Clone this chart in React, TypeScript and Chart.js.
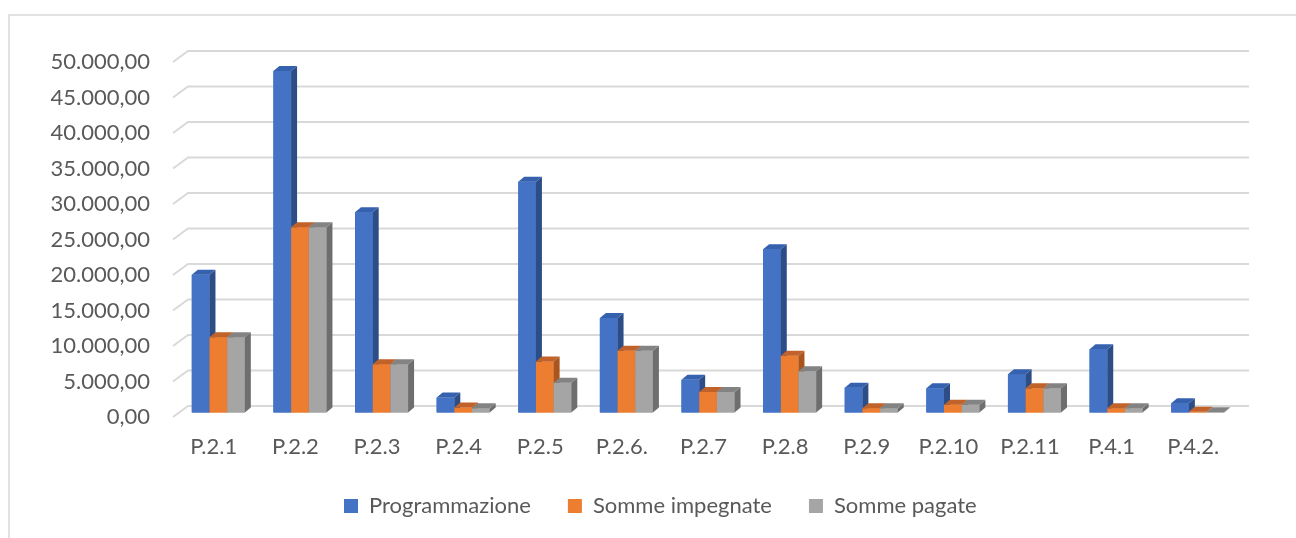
import React, { useEffect, useRef } from 'react';
import { Chart, registerables } from 'chart.js';

Chart.register(...registerables);

const categories = ['P.2.1', 'P.2.2', 'P.2.3', 'P.2.4', 'P.2.5', 'P.2.6.', 'P.2.7', 'P.2.8', 'P.2.9', 'P.2.10', 'P.2.11', 'P.4.1', 'P.4.2.'];
const programmazione = [19400, 48100, 28200, 2100, 32500, 13300, 4600, 23000, 3500, 3400, 5400, 8900, 1300];
const sommeImpegnate = [10600, 26100, 6800, 700, 7200, 8700, 2900, 8000, 600, 1100, 3400, 600, 100];
const sommePagate = [10600, 26100, 6800, 600, 4200, 8700, 2900, 5800, 600, 1100, 3400, 600, 50];
const seriesNames = ['Programmazione', 'Somme impegnate', 'Somme pagate'];
const yMin = 0;
const yMax = 50000;
const yStep = 5000;

const frontColors = ['#4472C4', '#ED7D31', '#A5A5A5'];
const sideColors = ['#2C4D86', '#A8561E', '#6E6E6E'];
const topColors = ['#3561AE', '#C0622A', '#838383'];

const FONT = 'Lato, "Open Sans", sans-serif';
const TEXT = '#595959';
const GRID = '#d9d9d9';

function fmt(v: number): string {
  const [i, d] = v.toFixed(2).split('.');
  return i.replace(/\B(?=(\d{3})+(?!\d))/g, '.') + ',' + d;
}

const WALL_DX = 15;
const WALL_DY = 11;
const BAR_DX = 4.5;
const BAR_DY = -4.5;
const FACE_DX = 6;
const FACE_DY = 5;

const excel3d = {
  id: 'excel3d',
  afterLayout(chart: any) {
    const lg = chart.legend;
    if (!lg) return;
    const pad = lg.options.labels.padding;
    const lw = lg.lineWidths[0];
    const cur = (lg.left + pad + lg.right - lw) / 2;
    const shift = 344 - cur;
    lg.left += shift;
    lg.right += shift;
    lg.top = 506 - pad - 11;
    lg.bottom = lg.top + 2 * pad + 30;
  },
  beforeDraw(chart: any) {
    const ctx = chart.ctx;
    ctx.save();
    ctx.strokeStyle = GRID;
    ctx.lineWidth = 1.5;
    ctx.beginPath();
    ctx.moveTo(9, chart.height + 5);
    ctx.lineTo(9, 15);
    ctx.lineTo(chart.width + 5, 15);
    ctx.stroke();

    const ys = chart.scales.y;
    const { left, right } = chart.chartArea;
    ctx.lineWidth = 2;
    ys.ticks.forEach((t: any) => {
      const py = ys.getPixelForValue(t.value);
      ctx.beginPath();
      ctx.moveTo(left, py);
      ctx.lineTo(left + WALL_DX, py - WALL_DY);
      ctx.lineTo(right + WALL_DX, py - WALL_DY);
      ctx.stroke();
    });
    ctx.restore();
  },
  beforeDatasetsDraw(chart: any) {
    chart.ctx.save();
    chart.ctx.translate(BAR_DX, BAR_DY);
  },
  afterDatasetsDraw(chart: any) {
    const ctx = chart.ctx;
    const count = chart.data.datasets.length;
    for (let di = 0; di < count; di++) {
      const meta = chart.getDatasetMeta(di);
      meta.data.forEach((el: any) => {
        const { x, y, base, width } = el.getProps(['x', 'y', 'base', 'width'], true);
        el.draw(ctx);
        const l = x - width / 2;
        const r = x + width / 2;
        ctx.fillStyle = sideColors[di];
        ctx.beginPath();
        ctx.moveTo(r, y);
        ctx.lineTo(r + FACE_DX, y - FACE_DY);
        ctx.lineTo(r + FACE_DX, base - FACE_DY);
        ctx.lineTo(r, base);
        ctx.closePath();
        ctx.fill();
        ctx.fillStyle = topColors[di];
        ctx.beginPath();
        ctx.moveTo(l, y);
        ctx.lineTo(l + FACE_DX, y - FACE_DY);
        ctx.lineTo(r + FACE_DX, y - FACE_DY);
        ctx.lineTo(r, y);
        ctx.closePath();
        ctx.fill();
      });
    }
    ctx.restore();
  },
};

export default function App() {
  const ref = useRef<HTMLCanvasElement | null>(null);
  useEffect(() => {
    if (!ref.current) return;
    const seriesData = [programmazione, sommeImpegnate, sommePagate];
    const chart = new Chart(ref.current, {
      type: 'bar',
      data: {
        labels: categories,
        datasets: seriesNames.map((name, i) => ({
          label: name,
          data: seriesData[i],
          backgroundColor: frontColors[i],
          borderWidth: 0,
          categoryPercentage: 0.65,
          barPercentage: 1,
          clip: false as any,
        })),
      },
      options: {
        responsive: false,
        animation: false,
        devicePixelRatio: 1,
        layout: { padding: { left: 0, top: 62, right: 62, bottom: 0 } },
        plugins: {
          tooltip: { enabled: false },
          legend: {
            position: 'bottom',
            maxHeight: 40,
            labels: {
              boxWidth: 14,
              boxHeight: 14,
              padding: 37,
              color: TEXT,
              font: { family: FONT, size: 22 },
            },
          },
        },
        scales: {
          x: {
            grid: { display: false, drawTicks: false },
            border: { display: false },
            ticks: {
              color: TEXT,
              font: { family: FONT, size: 22 },
              padding: 17,
              maxRotation: 0,
              autoSkip: false,
            },
            afterFit: (s: any) => {
              s.height = 81;
            },
          },
          y: {
            min: yMin,
            max: yMax,
            grid: { display: false, drawTicks: false },
            border: { display: false },
            ticks: {
              stepSize: yStep,
              color: TEXT,
              font: { family: FONT, size: 22 },
              padding: 23,
              callback: (v: any) => fmt(Number(v)),
            },
            afterFit: (s: any) => {
              s.width = 173;
            },
          },
        },
      },
      plugins: [excel3d],
    });
    return () => chart.destroy();
  }, []);
  return (
    <div style={{ position: 'fixed', left: 0, top: 0, width: 1296, height: 538, background: '#fff' }}>
      <canvas ref={ref} width={1296} height={538} style={{ display: 'block' }} />
    </div>
  );
}
